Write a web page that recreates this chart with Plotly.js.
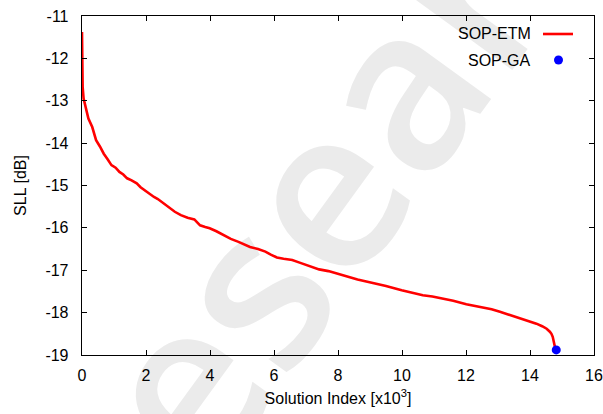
<!DOCTYPE html>
<html>
<head>
<meta charset="utf-8">
<script src="https://cdn.plot.ly/plotly-3.0.1.min.js"></script>
<style>html,body{margin:0;padding:0;background:#fff;}#chart{width:603px;height:414px;}</style>
</head>
<body>
<div id="chart"></div>
<script>
// Solution index (x10^3) and SLL [dB] for SOP-ETM
const etmIndex = [0, 0.01, 0.02, 0.05, 0.11, 0.2, 0.32, 0.44, 0.56, 0.68, 0.8, 0.92, 1.05, 1.17, 1.29, 1.41, 1.55, 1.71, 1.83, 1.95, 2.1, 2.25, 2.37, 2.49, 2.6, 2.73, 2.9, 3.09, 3.3, 3.51, 3.6, 3.69, 3.85, 3.99, 4.2, 4.41, 4.65, 4.89, 5.05, 5.25, 5.5, 5.73, 5.9, 6.09, 6.3, 6.57, 6.8, 7.05, 7.2, 7.41, 7.7, 8.01, 8.3, 8.61, 8.85, 9.09, 9.5, 9.99, 10.3, 10.65, 10.95, 11.26, 11.6, 12.01, 12.3, 12.58, 12.8, 13.06, 13.35, 13.66, 13.85, 14.02, 14.2, 14.38, 14.52, 14.62, 14.67, 14.71, 14.74, 14.76, 14.78, 14.8];
const etmSLL = [-11.38, -12.1, -12.67, -12.95, -13.15, -13.42, -13.62, -13.93, -14.08, -14.25, -14.38, -14.52, -14.58, -14.68, -14.74, -14.83, -14.88, -14.95, -15.04, -15.11, -15.18, -15.27, -15.32, -15.39, -15.45, -15.54, -15.62, -15.7, -15.76, -15.8, -15.86, -15.94, -15.98, -16.01, -16.08, -16.17, -16.26, -16.33, -16.38, -16.45, -16.5, -16.56, -16.63, -16.7, -16.73, -16.76, -16.82, -16.88, -16.93, -16.98, -17.02, -17.09, -17.15, -17.22, -17.26, -17.3, -17.37, -17.47, -17.53, -17.59, -17.62, -17.66, -17.72, -17.8, -17.84, -17.88, -17.92, -17.98, -18.05, -18.12, -18.16, -18.21, -18.26, -18.32, -18.38, -18.45, -18.5, -18.57, -18.66, -18.76, -18.83, -18.88];
// SOP-GA solution
const gaIndex = [14.82];
const gaSLL = [-18.88];

const xTicks = [0, 2, 4, 6, 8, 10, 12, 14, 16];
const yTicks = [-19, -18, -17, -16, -15, -14, -13, -12, -11];

const seriesNames = ['SOP-ETM', 'SOP-GA'];
const font = 'Liberation Sans, Arial, sans-serif';
const fs = 16;

const traces = [
  {x: etmIndex, y: etmSLL, type: 'scatter', mode: 'lines', name: seriesNames[0],
   line: {color: '#ff0000', width: 2.6}, showlegend: false},
  {x: gaIndex, y: gaSLL, type: 'scatter', mode: 'markers', name: seriesNames[1],
   marker: {color: '#0000ff', size: 9}, showlegend: false, cliponaxis: false}
];

const axisCommon = {
  showgrid: false, zeroline: false, showline: true, linecolor: '#000', linewidth: 1.3,
  mirror: 'ticks', ticks: 'inside', ticklen: 5, tickwidth: 1, tickcolor: '#000',
  tickfont: {family: font, size: fs, color: '#000'}, tickmode: 'array'
};

const layout = {
  width: 603, height: 414,
  margin: {l: 82, r: 9, t: 16, b: 59},
  paper_bgcolor: '#fff', plot_bgcolor: 'rgba(0,0,0,0)',
  showlegend: false,
  xaxis: Object.assign({}, axisCommon, {
    range: [0, 16], tickvals: xTicks, ticktext: xTicks.map(String), ticklabelstandoff: 5,
    title: {text: 'Solution Index [x10<sup>3</sup>]', font: {family: font, size: fs, color: '#000'}, standoff: 10}
  }),
  yaxis: Object.assign({}, axisCommon, {
    range: [-19, -11], tickvals: yTicks, ticktext: yTicks.map(v => '-' + Math.abs(v)), ticklabelstandoff: 9,
    title: {text: 'SLL [dB]', font: {family: font, size: fs, color: '#000'}, standoff: 14}
  }),
  shapes: [
    {type: 'rect', xref: 'paper', yref: 'paper', x0: 0.565 - 0.01, x1: 0.565 + 0.01, y0: 0.63 - 0.01, y1: 0.63 + 0.01,
     layer: 'below', line: {width: 0}, fillcolor: 'rgba(0,0,0,0)',
     label: {text: 'research', textangle: -54, textposition: 'middle center',
             font: {family: 'Open Sans, sans-serif', size: 225, weight: 600, color: '#ebebeb'}}},
    {type: 'line', xref: 'paper', yref: 'paper', x0: (543 - 82) / 512, x1: (573 - 82) / 512,
     y0: (355 - 34) / 339, y1: (355 - 34) / 339, line: {color: '#ff0000', width: 2.6}},
    {type: 'circle', xref: 'paper', yref: 'paper', x0: (554 - 82) / 512, x1: (563 - 82) / 512,
     y0: (355 - 64.5) / 339, y1: (355 - 55.5) / 339, fillcolor: '#0000ff', line: {width: 0}}
  ],
  annotations: [
    {xref: 'paper', yref: 'paper', x: (533 - 82) / 512, y: (355 - 34) / 339, xanchor: 'right', yanchor: 'middle',
     text: seriesNames[0], showarrow: false, font: {family: font, size: fs, color: '#000'}},
    {xref: 'paper', yref: 'paper', x: (533 - 82) / 512, y: (355 - 60) / 339, xanchor: 'right', yanchor: 'middle',
     text: seriesNames[1], showarrow: false, font: {family: font, size: fs, color: '#000'}}
  ]
};

Plotly.newPlot('chart', traces, layout, {displayModeBar: false, staticPlot: true});
</script>
</body>
</html>
